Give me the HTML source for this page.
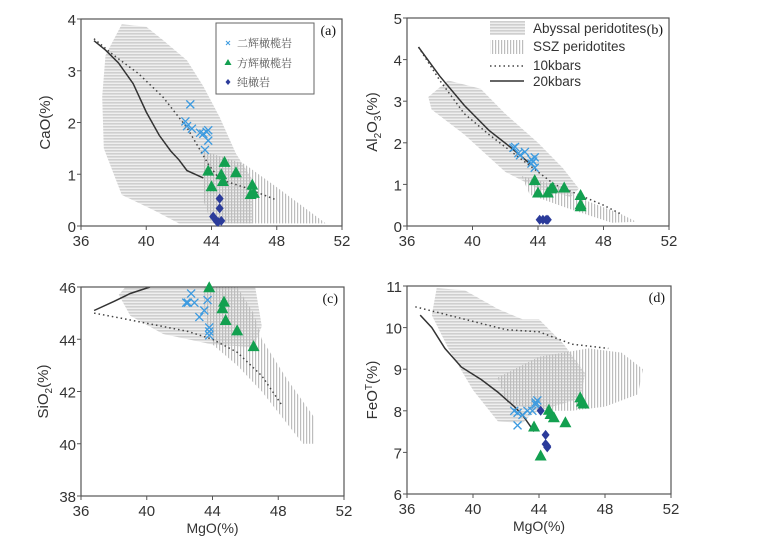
<!DOCTYPE html>
<html><head><meta charset="utf-8">
<style>
html,body{margin:0;padding:0;background:#fff;}
svg{display:block;font-family:"Liberation Sans","Noto Sans CJK SC",sans-serif;}
</style></head>
<body>
<svg id="fig" width="769" height="547" viewBox="0 0 769 547" xmlns="http://www.w3.org/2000/svg">
<defs>
<pattern id="hpat" width="4" height="3" patternUnits="userSpaceOnUse"><rect width="4" height="3" fill="#efefef"/><rect width="4" height="1.6" fill="#cfcfcf"/></pattern>
<pattern id="vpat" width="3" height="4" patternUnits="userSpaceOnUse"><rect width="1.2" height="4" fill="#bdbdbd"/></pattern>
</defs>
</svg>
<script>
// ---------- Panel (a) CaO ----------
const aCpxX=[42.7,42.4,42.5,42.8,43.3,43.5,43.7,43.8,43.8,43.6];
const aCpxY=[2.35,2.02,1.93,1.88,1.8,1.78,1.82,1.85,1.65,1.47];
const aHzX=[43.8,44.8,44.6,45.5,44.0,44.7,46.5,46.6,46.4];
const aHzY=[1.05,1.22,0.98,1.02,0.75,0.85,0.78,0.62,0.6];
const aDuX=[44.5,44.5,44.1,44.3,44.6,44.4];
const aDuY=[0.53,0.34,0.18,0.1,0.1,0.08];
const a20X=[36.8,37.5,38.3,39.2,40,40.8,41.5,42.0,42.5,43.0,43.5];
const a20Y=[3.58,3.4,3.15,2.75,2.2,1.75,1.45,1.28,1.07,1.0,0.93];
const a10X=[36.8,38,39.5,41,42.5,43.8,44.5,46,48];
const a10Y=[3.62,3.3,2.95,2.5,1.9,1.2,0.9,0.75,0.5];
const aAbX=[38.5,40,41,42.5,43.5,44.5,45.5,46.5,46.5,42,40.5,38.5,37.4,37.3,37.5];
const aAbY=[3.9,3.85,3.6,3.2,2.7,2.1,1.4,0.9,0.05,0.05,0.3,0.6,1.5,2.5,3.3];
const aSzX=[43.5,46,48,51,44,43.5];
const aSzY=[1.45,1.2,0.75,0.05,0.05,0.5];
const aYTicks=[0,1,2,3,4];
// ---------- Panel (b) Al2O3 ----------
const bCpxX=[42.6,42.5,42.8,43.2,43.6,43.7,43.8,43.6,43.8,42.9];
const bCpxY=[1.9,1.88,1.75,1.78,1.6,1.55,1.65,1.5,1.4,1.7];
const bHzX=[43.8,44.0,44.6,44.8,44.9,45.6,46.6,46.6,46.6];
const bHzY=[1.08,0.78,0.78,0.88,0.9,0.9,0.72,0.5,0.45];
const bDuX=[44.1,44.3,44.5,44.6];
const bDuY=[0.15,0.15,0.15,0.15];
const b20X=[36.7,38,39.5,41,42.3,43.5];
const b20Y=[4.3,3.6,2.9,2.3,1.9,1.5];
const b10X=[36.7,38,39.5,41,42.5,44,45,46.5,48,49];
const b10Y=[4.3,3.5,2.7,2.2,1.75,1.3,1.0,0.75,0.5,0.3];
const bAbX=[38.5,40.5,42,44,45.5,46.5,46,44,42,39.5,37.5,37.3];
const bAbY=[3.5,3.3,2.7,2.0,1.4,0.9,0.7,0.9,1.3,2.2,2.8,3.1];
const bSzX=[43,45,47,49,50,48.5,46,43.5];
const bSzY=[1.2,1.0,0.6,0.3,0.1,0.08,0.4,0.75];
const bYTicks=[0,1,2,3,4,5];
// ---------- Panel (c) SiO2 ----------
const cCpxX=[42.7,42.5,42.9,42.4,43.7,43.5,43.2,43.8,43.8,43.8];
const cCpxY=[45.75,45.4,45.4,45.4,45.5,45.1,44.85,44.45,44.3,44.15];
const cHzX=[43.8,44.7,44.6,44.8,45.5,46.5];
const cHzY=[45.95,45.4,45.15,44.7,44.3,43.7];
const c20X=[36.8,38,39,40.2];
const c20Y=[45.1,45.45,45.75,46];
const c10X=[36.8,38.5,40.5,42.5,44,45.5,47,48.2];
const c10Y=[45,44.8,44.55,44.3,44,43.5,42.6,41.5];
const cAbX=[38.7,46.6,47,46.5,44,41,39,38.3];
const cAbY=[46,46,44.5,43.7,43.8,44.2,44.9,45.7];
const cSzX=[43.5,45.5,46.5,47,48.5,50.2,50.2,49.5,47,45.5,44,43.5];
const cSzY=[46,46,45,44,42.5,41,40,40,42,43,43.8,45];
const cYTicks=[38,40,42,44,46];
// ---------- Panel (d) FeOT ----------
const dCpxX=[42.5,42.7,43,42.7,43.3,43.6,43.8,43.8,43.9];
const dCpxY=[8.0,7.95,7.9,7.65,8.0,8.0,8.15,8.2,8.25];
const dHzX=[43.7,44.6,44.7,44.9,45.6,46.5,46.6,46.7,44.1];
const dHzY=[7.6,8.0,7.9,7.82,7.7,8.3,8.2,8.15,6.9];
const dDuX=[44.1,44.4,44.4,44.5,44.5];
const dDuY=[8.0,7.42,7.2,7.15,7.12];
const d20X=[36.8,37.5,38.3,39.3,40.5,41.5,42.5,43,43.7];
const d20Y=[10.3,10,9.5,9.05,8.75,8.45,8.1,7.9,7.5];
const d10X=[36.5,38,40,42,44,46,48.2];
const d10Y=[10.5,10.35,10.15,9.95,9.9,9.6,9.5];
const dAbX=[37.8,39.5,41.5,43,44,45.5,46.8,46.5,44,43.5,43,41.5,40,38.5,37.5];
const dAbY=[10.95,10.9,10.45,10.2,10.2,9.6,8.9,8.3,8.0,7.9,7.7,7.75,8.5,9.5,10.3];
const dSzX=[41.5,44,47,49,50.3,50,48,46,44,42];
const dSzY=[8.8,9.3,9.5,9.4,9,8.4,8.1,8.0,8.0,8.2];
const dYTicks=[6,7,8,9,10,11];
const xTicks=[36,40,44,48,52];

const NS='http://www.w3.org/2000/svg';
const svg=document.getElementById('fig');
function mk(tag,attrs,parent){const e=document.createElementNS(NS,tag);for(const k in attrs)e.setAttribute(k,attrs[k]);(parent||svg).appendChild(e);return e;}

function panel(p){
  const g=mk('g',{});
  
  
  const sx=v=>p.x0+(v-36)/16*(p.x1-p.x0);
  const sy=v=>p.y1-(v-p.ymin)/(p.ymax-p.ymin)*(p.y1-p.y0);
  const clipId='clip'+p.id;
  const cp=mk('clipPath',{id:clipId},g);mk('rect',{x:p.x0,y:p.y0,width:p.x1-p.x0,height:p.y1-p.y0},cp);
  const inner=mk('g',{'clip-path':'url(#'+clipId+')'},g);
  const pts=(X,Y)=>X.map((x,i)=>sx(x).toFixed(1)+','+sy(Y[i]).toFixed(1)).join(' ');
  const ab=mk('polygon',{points:pts(p.abX,p.abY),fill:'url(#hpat)'},inner);
  
  
  const sz=mk('polygon',{points:pts(p.szX,p.szY),fill:'url(#vpat)'},inner);
  
  
  const l10=mk('polyline',{points:pts(p.l10X,p.l10Y),fill:'none',stroke:'#444','stroke-width':1.5,'stroke-dasharray':'1.5 3'},inner);
  
  
  const l20=mk('polyline',{points:pts(p.l20X,p.l20Y),fill:'none',stroke:'#333','stroke-width':1.5},inner);
  
  
  // axes box
  const box=mk('rect',{x:p.x0,y:p.y0,width:p.x1-p.x0,height:p.y1-p.y0,fill:'none',stroke:'#555','stroke-width':1.2},g);
  
  
  xTicks.forEach(t=>{
    mk('line',{x1:sx(t),x2:sx(t),y1:p.y1,y2:p.y1+4,stroke:'#555'},g);
    const tx=mk('text',{x:sx(t),y:p.y1+20,'text-anchor':'middle','font-size':15,fill:'#333'},g);
    tx.textContent=t;
    
    
  });
  p.yTicks.forEach(t=>{
    mk('line',{x1:p.x0-4,x2:p.x0,y1:sy(t),y2:sy(t),stroke:'#555'},g);
    const tx=mk('text',{x:p.x0-5,y:sy(t)+6,'text-anchor':'end','font-size':15,fill:'#333'},g);
    tx.textContent=t;
    
    
  });
  const yl=mk('text',{transform:`translate(${p.ylx},${(p.y0+p.y1)/2}) rotate(-90)`,'text-anchor':'middle','font-size':15,fill:'#333'},g);
  yl.innerHTML=p.ylab;
  
  
  if(p.xlab){const xl=mk('text',{x:(p.x0+p.x1)/2,y:p.y1+37,'text-anchor':'middle','font-size':14,fill:'#333'},g);xl.textContent='MgO(%)';
    
    }
  const pl=mk('text',{x:p.x1-6,y:p.y0+16,'text-anchor':'end','font-size':14,'font-family':'Liberation Serif,serif',fill:'#111'},g);
  pl.textContent='('+p.id+')';
  
  
  // markers
  (p.cpxX||[]).forEach((x,i)=>{const cx=sx(x),cy=sy(p.cpxY[i]);
    const m=mk('path',{d:`M${cx-4},${cy-4}L${cx+4},${cy+4}M${cx-4},${cy+4}L${cx+4},${cy-4}`,stroke:'#3d9be0','stroke-width':1.3,fill:'none'},g);
    
    });
  (p.hzX||[]).forEach((x,i)=>{const cx=sx(x),cy=sy(p.hzY[i]);
    const m=mk('polygon',{points:`${cx},${cy-7} ${cx-6},${cy+4} ${cx+6},${cy+4}`,fill:'#13a050'},g);
    
    });
  (p.duX||[]).forEach((x,i)=>{const cx=sx(x),cy=sy(p.duY[i]);
    const m=mk('polygon',{points:`${cx},${cy-5} ${cx-4},${cy} ${cx},${cy+5} ${cx+4},${cy}`,fill:'#2b3b9a'},g);
    
    });
  return {sx,sy,g};
}

panel({id:'a',x0:81,x1:342,y0:19,y1:226,ymin:0,ymax:4,yTicks:aYTicks,ylx:50,ylab:'CaO(%)',
  cpxX:aCpxX,cpxY:aCpxY,hzX:aHzX,hzY:aHzY,duX:aDuX,duY:aDuY,l20X:a20X,l20Y:a20Y,l10X:a10X,l10Y:a10Y,abX:aAbX,abY:aAbY,szX:aSzX,szY:aSzY});
panel({id:'b',x0:407,x1:669,y0:18,y1:226,ymin:0,ymax:5,yTicks:bYTicks,ylx:377,ylab:'Al<tspan font-size="10" dy="4">2</tspan><tspan dy="-4">O</tspan><tspan font-size="10" dy="4">3</tspan><tspan dy="-4">(%)</tspan>',
  cpxX:bCpxX,cpxY:bCpxY,hzX:bHzX,hzY:bHzY,duX:bDuX,duY:bDuY,l20X:b20X,l20Y:b20Y,l10X:b10X,l10Y:b10Y,abX:bAbX,abY:bAbY,szX:bSzX,szY:bSzY});
panel({id:'c',x0:81,x1:344,y0:287,y1:496,ymin:38,ymax:46,yTicks:cYTicks,ylx:48,xlab:true,ylab:'SiO<tspan font-size="10" dy="4">2</tspan><tspan dy="-4">(%)</tspan>',
  cpxX:cCpxX,cpxY:cCpxY,hzX:cHzX,hzY:cHzY,l20X:c20X,l20Y:c20Y,l10X:c10X,l10Y:c10Y,abX:cAbX,abY:cAbY,szX:cSzX,szY:cSzY});
panel({id:'d',x0:407,x1:671,y0:286,y1:494,ymin:6,ymax:11,yTicks:dYTicks,ylx:377,xlab:true,ylab:'FeO<tspan font-size="10" dy="-5">T</tspan><tspan dy="5">(%)</tspan>',
  cpxX:dCpxX,cpxY:dCpxY,hzX:dHzX,hzY:dHzY,duX:dDuX,duY:dDuY,l20X:d20X,l20Y:d20Y,l10X:d10X,l10Y:d10Y,abX:dAbX,abY:dAbY,szX:dSzX,szY:dSzY});

// legend (a)
const lg=mk('g',{});


mk('rect',{x:216,y:23,width:98,height:71,fill:'#fff',stroke:'#666'},lg);
[['二辉橄榄岩',43,'x'],['方辉橄榄岩',63,'t'],['纯橄岩',82,'d']].forEach(e=>{
  const y=e[1];
  if(e[2]==='x')mk('path',{d:`M226,${y-2}L230,${y+2}M226,${y+2}L230,${y-2}`,stroke:'#3d9be0'},lg);
  if(e[2]==='t')mk('polygon',{points:`228,${y-4} 224.5,${y+2} 231.5,${y+2}`,fill:'#13a050'},lg);
  if(e[2]==='d')mk('polygon',{points:`228,${y-3} 225.5,${y} 228,${y+3} 230.5,${y}`,fill:'#2b3b9a'},lg);
  const t=mk('text',{x:237,y:y+4,'font-size':11,fill:'#555','font-family':'Liberation Serif,"Noto Serif CJK SC",serif'},lg);
  t.textContent=e[0];
  
  
});
// legend (b)
const lb=mk('g',{});


mk('rect',{x:490,y:21,width:35,height:14,fill:'url(#hpat)'},lb);
mk('rect',{x:490,y:40,width:35,height:14,fill:'url(#vpat)'},lb);
mk('line',{x1:490,x2:524,y1:66,y2:66,stroke:'#444','stroke-width':1.5,'stroke-dasharray':'1.5 3'},lb);
mk('line',{x1:490,x2:524,y1:81,y2:81,stroke:'#333','stroke-width':1.5},lb);
[['Abyssal peridotites',33],['SSZ peridotites',51],['10kbars',70],['20kbars',86]].forEach(e=>{
  const t=mk('text',{x:533,y:e[1],'font-size':13.5,fill:'#333'},lb);
  t.textContent=e[0];
  
  
});
</script>
</body></html>
